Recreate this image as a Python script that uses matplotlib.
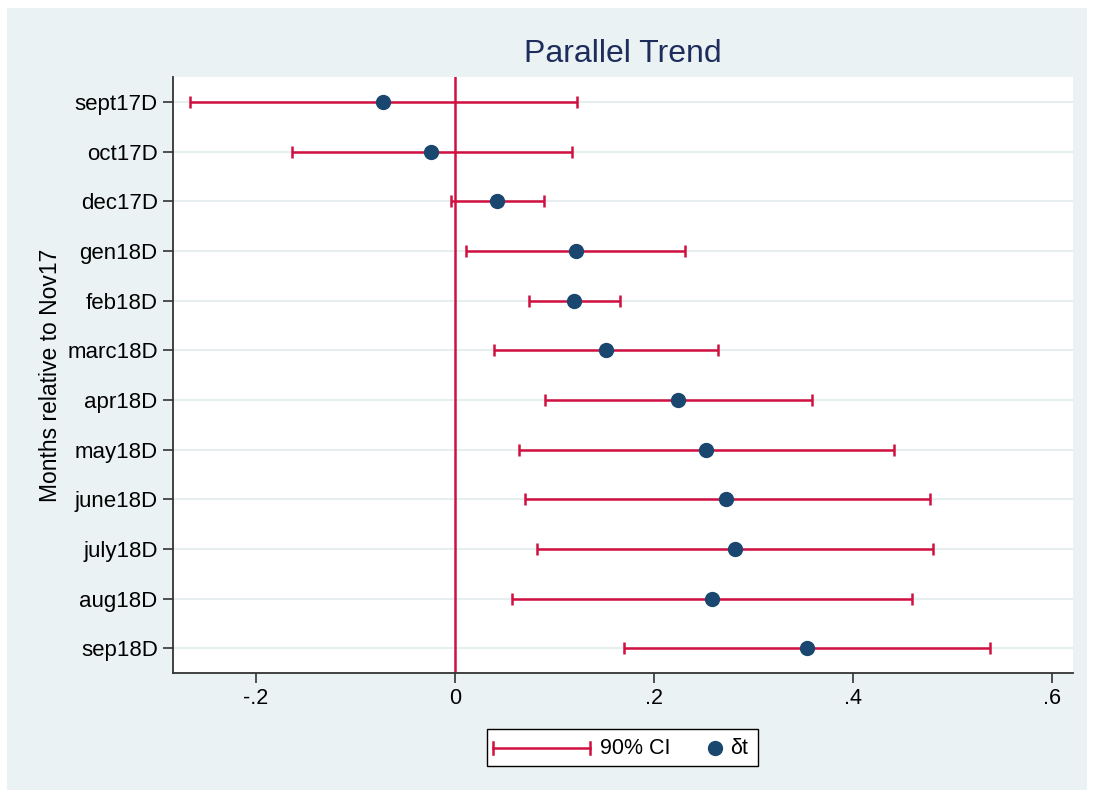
import numpy as np
import matplotlib.pyplot as plt
from matplotlib.patches import Rectangle
from matplotlib.lines import Line2D

plt.rcParams['font.family'] = ['Liberation Sans', 'DejaVu Sans']

# Estimates and 90% CI bounds by month (relative to Nov17)
months = ['sept17D', 'oct17D', 'dec17D', 'gen18D', 'feb18D', 'marc18D',
          'apr18D', 'may18D', 'june18D', 'july18D', 'aug18D', 'sep18D']
coef = [-0.072, -0.024, 0.042, 0.122, 0.120, 0.152,
        0.224, 0.252, 0.272, 0.281, 0.258, 0.354]
ci_low = [-0.266, -0.164, -0.004, 0.011, 0.074, 0.039,
          0.090, 0.064, 0.070, 0.082, 0.057, 0.170]
ci_high = [0.123, 0.118, 0.089, 0.231, 0.166, 0.264,
           0.359, 0.441, 0.477, 0.480, 0.459, 0.538]
xticks = [-0.2, 0, 0.2, 0.4, 0.6]
xtick_labels = ['-.2', '0', '.2', '.4', '.6']

bg = '#EAF2F3'
red = '#CF1040'
navy = '#1A476F'
W, H = 1094, 798


def fx(px):
    return px / W


def fy(py):
    return 1 - py / H


fig = plt.figure(figsize=(10.94, 7.98), dpi=100, facecolor='white')
fig.patches.append(Rectangle((fx(7), fy(790)), fx(1080), 782 / H,
                             transform=fig.transFigure, facecolor=bg,
                             edgecolor='none', zorder=-5))
ax = fig.add_axes([fx(173), fy(673), fx(900), 596 / H])
ax.set_facecolor('white')

y = np.arange(len(months))
for yy in y:
    ax.axhline(yy, color='#E6EEF0', lw=1.5, zorder=1)
ax.axvline(0, color=red, lw=1.8, zorder=2)

coef = np.array(coef)
err = [coef - np.array(ci_low), np.array(ci_high) - coef]
ax.errorbar(coef, y, xerr=err, fmt='none', ecolor=red, elinewidth=1.8,
            capsize=4.5, capthick=1.8, zorder=3)
ax.plot(coef, y, 'o', color=navy, ms=10, zorder=4)

ax.set_xlim(-0.2834, 0.621)
ax.set_ylim(11.5, -0.5)
ax.set_yticks(y)
ax.set_yticklabels(months, fontsize=16)
ax.set_xticks(xticks)
ax.set_xticklabels(xtick_labels, fontsize=15.5)
ax.tick_params(axis='both', length=7, width=1.2, color='#333333')
ax.tick_params(axis='x', pad=4)
ax.tick_params(axis='y', pad=4)
for s in ['top', 'right']:
    ax.spines[s].set_visible(False)
for s in ['left', 'bottom']:
    ax.spines[s].set_color('#333333')
    ax.spines[s].set_linewidth(1.3)

ax.set_ylabel('Months relative to Nov17', fontsize=16.5, labelpad=4)
ax.set_title('Parallel Trend', fontsize=23, color='#1E2D5C', pad=11)

# legend box drawn by hand (Stata style)
fig.patches.append(Rectangle((fx(487), fy(766)), fx(271), 37 / H,
                             transform=fig.transFigure, facecolor='white',
                             edgecolor='black', lw=1.0))
ly = fy(748)
fig.add_artist(Line2D([fx(493), fx(590)], [ly, ly], color=red, lw=1.8))
for cx in (493, 590):
    fig.add_artist(Line2D([fx(cx), fx(cx)], [ly - 6 / H, ly + 6 / H],
                          color=red, lw=1.8))
fig.text(fx(600), ly, '90% CI', fontsize=15.5, va='center', ha='left')
fig.add_artist(Line2D([fx(715)], [ly], marker='o', color=navy, ms=10,
                      ls='none'))
fig.text(fx(730), ly, 'δt', fontsize=15.5, va='center', ha='left')

fig.savefig('out.png', dpi=100, facecolor='white')
